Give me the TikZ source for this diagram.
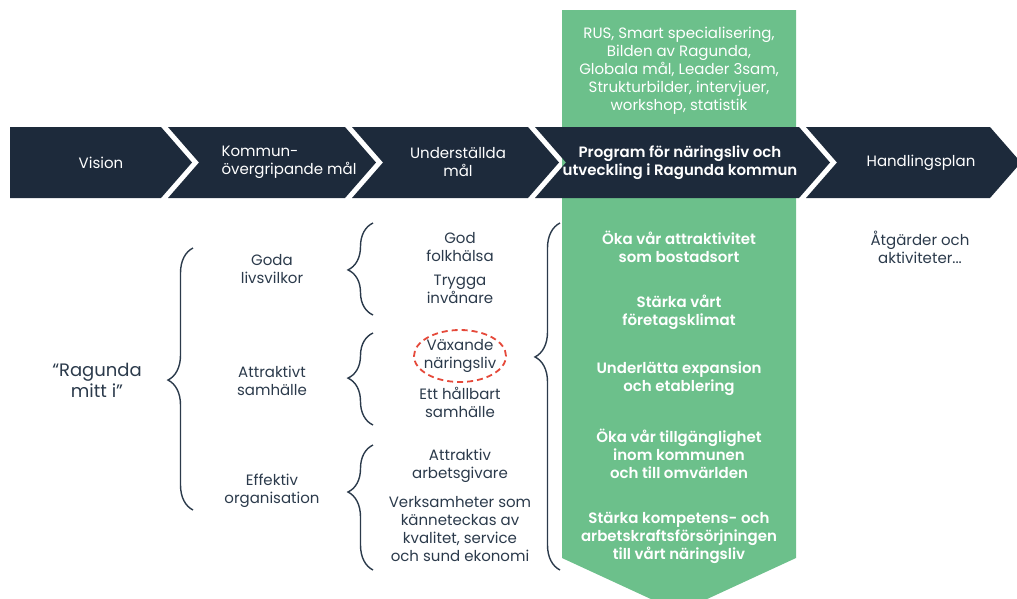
\documentclass[tikz,border=0pt]{standalone}
\usepackage{fontspec}
\setmainfont{Poppins}[BoldFont={Poppins SemiBold}]
\usetikzlibrary{decorations.pathreplacing,shapes.geometric}
\definecolor{navyR}{HTML}{1D2A3B}
\definecolor{greenR}{HTML}{6CC08B}
\definecolor{inkR}{HTML}{2B3A4B}
\definecolor{redR}{HTML}{E5493A}

\begin{document}
\begin{tikzpicture}[x=1pt, y=-1pt,
    every node/.style={align=center, inner sep=0pt, font=\fontsize{15}{18}\selectfont},
    bartext/.style={text=white},
    goaltext/.style={text=white, font=\fontsize{15}{18}\selectfont\bfseries},
    plain/.style={text=inkR},
    curly/.style={decorate, decoration={brace, amplitude=25pt, aspect=#1}, draw=inkR, line width=1.4pt},
    curly/.default=0.5
]
\useasboundingbox (0,0) rectangle (1017,598);
\clip (0,0) rectangle (1017,598);

% green program band
\fill[greenR] (562,10) -- (796,10) -- (796,558) -- (679,612) -- (562,558) -- cycle;

% chevron bar
\fill[navyR] (10,127) -- (161,127) -- (192,162.5) -- (161,198) -- (10,198) -- cycle;
\foreach \xa/\xb in {168/345, 352/528, 535/799, 806/990}
    \fill[navyR] (\xa,127) -- (\xb,127) -- ++(31,35.5) -- (\xb,198) -- (\xa,198) -- ++(31,-35.5) -- cycle;

\node[bartext] (vision) at (101,162.5) {Vision};
\node[bartext, align=left] (kommun) at (289,162.5) {Kommun-\\övergripande mål};
\node[bartext] (underst) at (458,162.5) {Underställda\\mål};
\node[goaltext] (program) at (680,162.5) {Program för näringsliv och\\utveckling i Ragunda kommun};
\node[bartext] (handling) at (921,162.5) {Handlingsplan};

% sources above the bar
\node[bartext] (sources) at (679,71) {RUS, Smart specialisering,\\Bilden av Ragunda,\\Globala mål, Leader 3sam,\\Strukturbilder, intervjuer,\\workshop, statistik};

% vision and goals
\node[plain, font=\fontsize{18}{21}\selectfont] (ragunda) at (97,380) {“Ragunda\\mitt i”};

\node[plain] (goda) at (272,269) {Goda\\livsvilkor};
\node[plain] (samh) at (272,381) {Attraktivt\\samhälle};
\node[plain] (effektiv) at (272,491) {Effektiv\\organisation};

\node[plain] (god) at (460,247) {God\\folkhälsa};
\node[plain] (trygga) at (460,289) {Trygga\\invånare};
\node[plain] (vaxande) at (460,356) {Växande\\näringsliv};
\node[plain] (hallbart) at (460,402) {Ett hållbart\\samhälle};
\node[plain] (attraktiv) at (460,466) {Attraktiv\\arbetsgivare};
\node[plain] (verksam) at (460,529) {Verksamheter som\\känneteckas av\\kvalitet, service\\och sund ekonomi};

\node[draw=redR, dashed, dash pattern=on 6pt off 4pt, line width=1.8pt, ellipse,
      minimum width=92pt, minimum height=52pt] (ring) at (460,356) {};

% program goals
\node[goaltext] (bostad) at (679,247) {Öka vår attraktivitet\\som bostadsort};
\node[goaltext] (klimat) at (679,312) {Stärka vårt\\företagsklimat};
\node[goaltext] (expans) at (679,379) {Underlätta expansion\\och etablering};
\node[goaltext] (tillg) at (679,454) {Öka vår tillgänglighet\\inom kommunen\\och till omvärlden};
\node[goaltext] (kompet) at (679,538) {Stärka kompetens- och\\arbetskraftsförsörjningen\\till vårt näringsliv};

\node[plain] (atgard) at (920,247) {Åtgärder och\\aktiviteter...};

% braces
\coordinate (b0s) at (193,510); \coordinate (b0e) at (193,248);
\coordinate (b1s) at (373,315); \coordinate (b1e) at (373,223);
\coordinate (b2s) at (373,425); \coordinate (b2e) at (373,333);
\coordinate (b3s) at (373,570); \coordinate (b3e) at (373,445);
\coordinate (b4s) at (560,570); \coordinate (b4e) at (560,223);
\draw[curly=0.496] (b0s) -- (b0e);
\draw[curly=0.49] (b1s) -- (b1e);
\draw[curly=0.51] (b2s) -- (b2e);
\draw[curly=0.624] (b3s) -- (b3e);
\draw[curly=0.614] (b4s) -- (b4e);
\end{tikzpicture}
\end{document}
